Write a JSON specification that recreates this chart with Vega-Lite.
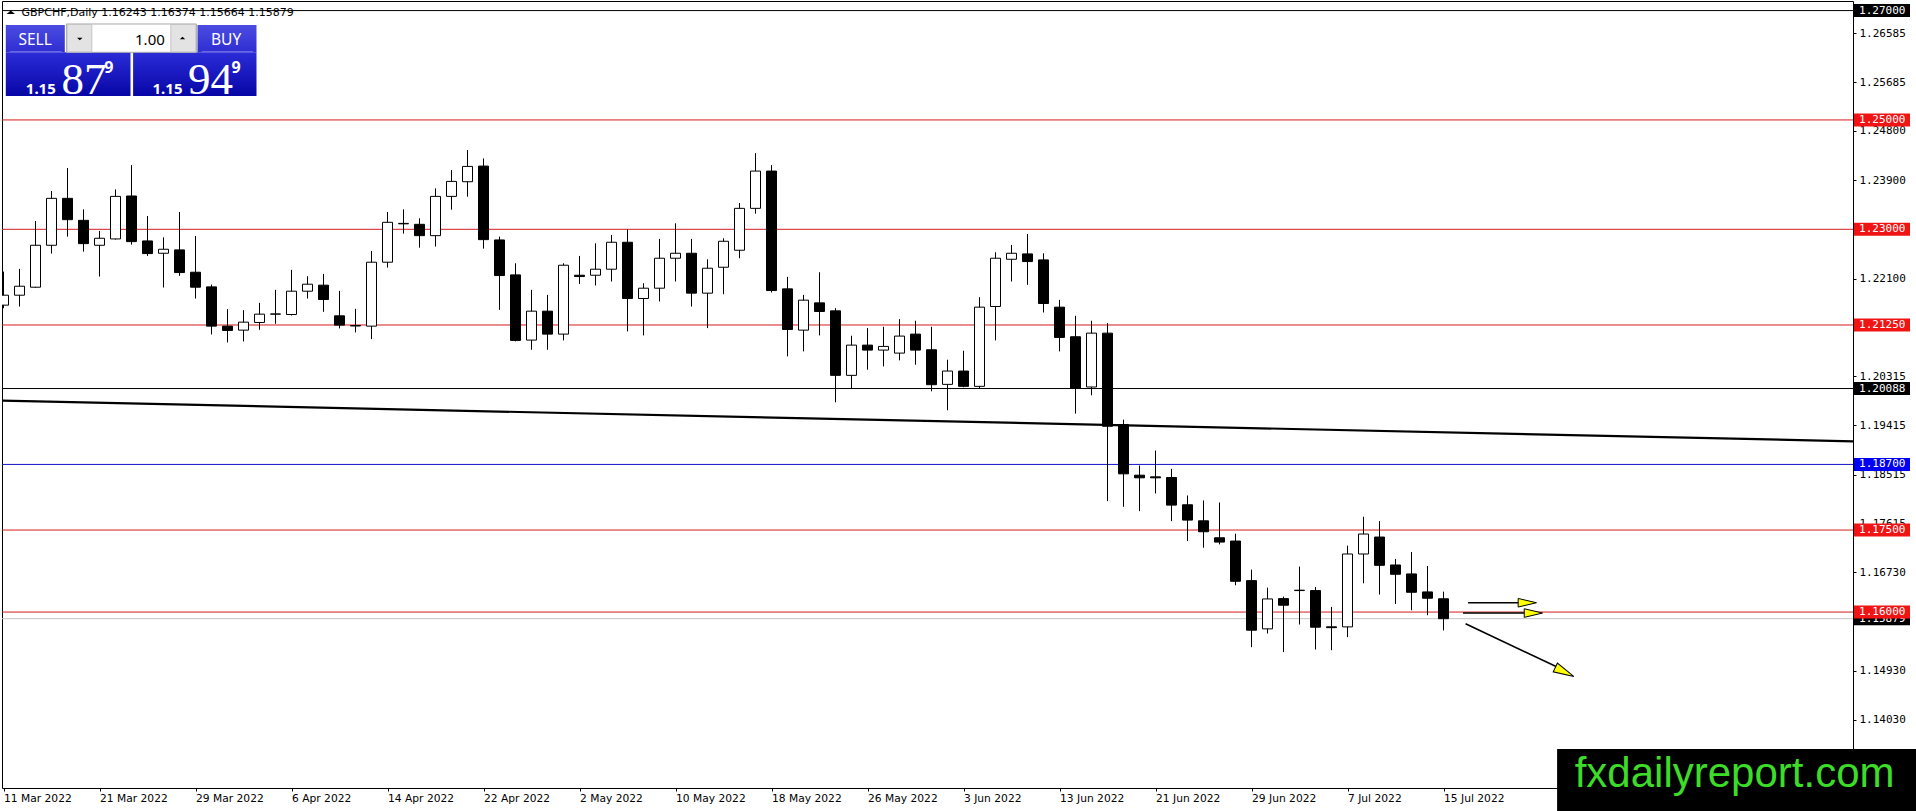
{
  "$schema": "https://vega.github.io/schema/vega-lite/v6.json",
  "width": 1851,
  "height": 787,
  "autosize": {"type": "none"},
  "padding": {"left": 2, "top": 1, "right": 63, "bottom": 23},
  "background": "white",
  "datasets": {
    "candles": [
      {"date": "2022-03-11", "bar": 0, "open": 1.21613, "high": 1.22227, "low": 1.21558, "close": 1.21795},
      {"date": "2022-03-14", "bar": 1, "open": 1.21795, "high": 1.22276, "low": 1.21588, "close": 1.21959},
      {"date": "2022-03-15", "bar": 2, "open": 1.21941, "high": 1.23152, "low": 1.2193, "close": 1.22708},
      {"date": "2022-03-16", "bar": 3, "open": 1.22708, "high": 1.237, "low": 1.22556, "close": 1.23566},
      {"date": "2022-03-17", "bar": 4, "open": 1.23566, "high": 1.2412, "low": 1.22866, "close": 1.23176},
      {"date": "2022-03-18", "bar": 5, "open": 1.23164, "high": 1.23365, "low": 1.22592, "close": 1.22738},
      {"date": "2022-03-21", "bar": 6, "open": 1.22708, "high": 1.2297, "low": 1.22136, "close": 1.22836},
      {"date": "2022-03-22", "bar": 7, "open": 1.22824, "high": 1.2373, "low": 1.22811, "close": 1.23602},
      {"date": "2022-03-23", "bar": 8, "open": 1.23609, "high": 1.24174, "low": 1.2272, "close": 1.22775},
      {"date": "2022-03-24", "bar": 9, "open": 1.22787, "high": 1.23243, "low": 1.22513, "close": 1.22556},
      {"date": "2022-03-25", "bar": 10, "open": 1.22562, "high": 1.22854, "low": 1.21935, "close": 1.22635},
      {"date": "2022-03-28", "bar": 11, "open": 1.22623, "high": 1.23316, "low": 1.22148, "close": 1.22209},
      {"date": "2022-03-29", "bar": 12, "open": 1.22215, "high": 1.22878, "low": 1.21734, "close": 1.21941},
      {"date": "2022-03-30", "bar": 13, "open": 1.21947, "high": 1.2199, "low": 1.21077, "close": 1.21229},
      {"date": "2022-03-31", "bar": 14, "open": 1.21229, "high": 1.2154, "low": 1.20931, "close": 1.2115},
      {"date": "2022-04-01", "bar": 15, "open": 1.21156, "high": 1.21521, "low": 1.20949, "close": 1.21302},
      {"date": "2022-04-04", "bar": 16, "open": 1.21296, "high": 1.21655, "low": 1.21162, "close": 1.21448},
      {"date": "2022-04-05", "bar": 17, "open": 1.21448, "high": 1.21893, "low": 1.21272, "close": 1.21452},
      {"date": "2022-04-06", "bar": 18, "open": 1.21442, "high": 1.22258, "low": 1.21424, "close": 1.21868},
      {"date": "2022-04-07", "bar": 19, "open": 1.21868, "high": 1.22142, "low": 1.21734, "close": 1.21996},
      {"date": "2022-04-08", "bar": 20, "open": 1.21978, "high": 1.22185, "low": 1.21491, "close": 1.21716},
      {"date": "2022-04-11", "bar": 21, "open": 1.21418, "high": 1.21874, "low": 1.21187, "close": 1.21248},
      {"date": "2022-04-12", "bar": 22, "open": 1.2124, "high": 1.21546, "low": 1.21114, "close": 1.21232},
      {"date": "2022-04-13", "bar": 23, "open": 1.21229, "high": 1.22604, "low": 1.20992, "close": 1.22398},
      {"date": "2022-04-14", "bar": 24, "open": 1.22398, "high": 1.23316, "low": 1.223, "close": 1.23128},
      {"date": "2022-04-15", "bar": 25, "open": 1.231, "high": 1.23365, "low": 1.22921, "close": 1.23108},
      {"date": "2022-04-18", "bar": 26, "open": 1.23091, "high": 1.23201, "low": 1.22665, "close": 1.22884},
      {"date": "2022-04-19", "bar": 27, "open": 1.22884, "high": 1.23748, "low": 1.22684, "close": 1.23602},
      {"date": "2022-04-20", "bar": 28, "open": 1.23602, "high": 1.24083, "low": 1.23359, "close": 1.23876},
      {"date": "2022-04-21", "bar": 29, "open": 1.2387, "high": 1.24448, "low": 1.23596, "close": 1.2415},
      {"date": "2022-04-22", "bar": 30, "open": 1.24156, "high": 1.24296, "low": 1.22647, "close": 1.22811},
      {"date": "2022-04-25", "bar": 31, "open": 1.22805, "high": 1.22866, "low": 1.21527, "close": 1.22154},
      {"date": "2022-04-26", "bar": 32, "open": 1.22166, "high": 1.22379, "low": 1.2095, "close": 1.20968},
      {"date": "2022-04-27", "bar": 33, "open": 1.20974, "high": 1.21893, "low": 1.20797, "close": 1.21503},
      {"date": "2022-04-28", "bar": 34, "open": 1.21503, "high": 1.21801, "low": 1.20797, "close": 1.21083},
      {"date": "2022-04-29", "bar": 35, "open": 1.21083, "high": 1.22379, "low": 1.20968, "close": 1.22343},
      {"date": "2022-05-02", "bar": 36, "open": 1.2216, "high": 1.22513, "low": 1.22002, "close": 1.22136},
      {"date": "2022-05-03", "bar": 37, "open": 1.2216, "high": 1.22744, "low": 1.21972, "close": 1.2227},
      {"date": "2022-05-04", "bar": 38, "open": 1.2227, "high": 1.22897, "low": 1.22045, "close": 1.22763},
      {"date": "2022-05-05", "bar": 39, "open": 1.22763, "high": 1.23, "low": 1.21132, "close": 1.21734},
      {"date": "2022-05-06", "bar": 40, "open": 1.21734, "high": 1.22014, "low": 1.21059, "close": 1.21923},
      {"date": "2022-05-09", "bar": 41, "open": 1.21923, "high": 1.22824, "low": 1.2168, "close": 1.22471},
      {"date": "2022-05-10", "bar": 42, "open": 1.22471, "high": 1.2311, "low": 1.22045, "close": 1.22562},
      {"date": "2022-05-11", "bar": 43, "open": 1.22562, "high": 1.22824, "low": 1.21588, "close": 1.21832},
      {"date": "2022-05-12", "bar": 44, "open": 1.21832, "high": 1.22452, "low": 1.21193, "close": 1.22288},
      {"date": "2022-05-13", "bar": 45, "open": 1.22306, "high": 1.22836, "low": 1.21813, "close": 1.22781},
      {"date": "2022-05-16", "bar": 46, "open": 1.22617, "high": 1.23481, "low": 1.22471, "close": 1.23383},
      {"date": "2022-05-17", "bar": 47, "open": 1.23383, "high": 1.24393, "low": 1.23286, "close": 1.24065},
      {"date": "2022-05-18", "bar": 48, "open": 1.24065, "high": 1.24174, "low": 1.21844, "close": 1.2188},
      {"date": "2022-05-19", "bar": 49, "open": 1.21911, "high": 1.2213, "low": 1.20676, "close": 1.21168},
      {"date": "2022-05-20", "bar": 50, "open": 1.21156, "high": 1.21801, "low": 1.20767, "close": 1.21704},
      {"date": "2022-05-23", "bar": 51, "open": 1.21655, "high": 1.22215, "low": 1.21059, "close": 1.21497},
      {"date": "2022-05-24", "bar": 52, "open": 1.21509, "high": 1.21558, "low": 1.19836, "close": 1.20329},
      {"date": "2022-05-25", "bar": 53, "open": 1.20329, "high": 1.21053, "low": 1.20079, "close": 1.20882},
      {"date": "2022-05-26", "bar": 54, "open": 1.20882, "high": 1.21193, "low": 1.20432, "close": 1.20791},
      {"date": "2022-05-27", "bar": 55, "open": 1.20791, "high": 1.21217, "low": 1.20493, "close": 1.20858},
      {"date": "2022-05-30", "bar": 56, "open": 1.20736, "high": 1.21357, "low": 1.20603, "close": 1.21047},
      {"date": "2022-05-31", "bar": 57, "open": 1.21083, "high": 1.21327, "low": 1.20523, "close": 1.20791},
      {"date": "2022-06-01", "bar": 58, "open": 1.20797, "high": 1.21217, "low": 1.20037, "close": 1.20158},
      {"date": "2022-06-02", "bar": 59, "open": 1.20164, "high": 1.20615, "low": 1.1969, "close": 1.20408},
      {"date": "2022-06-03", "bar": 60, "open": 1.20408, "high": 1.20779, "low": 1.2011, "close": 1.20128},
      {"date": "2022-06-06", "bar": 61, "open": 1.20128, "high": 1.21759, "low": 1.20079, "close": 1.21576},
      {"date": "2022-06-07", "bar": 62, "open": 1.21588, "high": 1.2258, "low": 1.20968, "close": 1.22471},
      {"date": "2022-06-08", "bar": 63, "open": 1.22452, "high": 1.22714, "low": 1.22045, "close": 1.22562},
      {"date": "2022-06-09", "bar": 64, "open": 1.2255, "high": 1.22915, "low": 1.21984, "close": 1.2241},
      {"date": "2022-06-10", "bar": 65, "open": 1.2244, "high": 1.22562, "low": 1.21479, "close": 1.21643},
      {"date": "2022-06-13", "bar": 66, "open": 1.21576, "high": 1.2171, "low": 1.20767, "close": 1.21022},
      {"date": "2022-06-14", "bar": 67, "open": 1.21035, "high": 1.21418, "low": 1.19629, "close": 1.20097},
      {"date": "2022-06-15", "bar": 68, "open": 1.20116, "high": 1.21327, "low": 1.19964, "close": 1.21101},
      {"date": "2022-06-16", "bar": 69, "open": 1.21101, "high": 1.21284, "low": 1.18029, "close": 1.19398},
      {"date": "2022-06-17", "bar": 70, "open": 1.19428, "high": 1.19519, "low": 1.17925, "close": 1.18528},
      {"date": "2022-06-20", "bar": 71, "open": 1.18503, "high": 1.1868, "low": 1.17846, "close": 1.18455},
      {"date": "2022-06-21", "bar": 72, "open": 1.18473, "high": 1.18953, "low": 1.18169, "close": 1.18455},
      {"date": "2022-06-22", "bar": 73, "open": 1.18461, "high": 1.18619, "low": 1.17663, "close": 1.17956},
      {"date": "2022-06-23", "bar": 74, "open": 1.17962, "high": 1.18132, "low": 1.17298, "close": 1.17682},
      {"date": "2022-06-24", "bar": 75, "open": 1.17669, "high": 1.18041, "low": 1.17177, "close": 1.17469},
      {"date": "2022-06-27", "bar": 76, "open": 1.17359, "high": 1.18004, "low": 1.17237, "close": 1.1728},
      {"date": "2022-06-28", "bar": 77, "open": 1.17299, "high": 1.17433, "low": 1.1649, "close": 1.16563},
      {"date": "2022-06-29", "bar": 78, "open": 1.16575, "high": 1.16776, "low": 1.15358, "close": 1.15668},
      {"date": "2022-06-30", "bar": 79, "open": 1.15693, "high": 1.16447, "low": 1.15608, "close": 1.1624},
      {"date": "2022-07-01", "bar": 80, "open": 1.16246, "high": 1.16283, "low": 1.15267, "close": 1.16125},
      {"date": "2022-07-04", "bar": 81, "open": 1.16393, "high": 1.16831, "low": 1.15772, "close": 1.164},
      {"date": "2022-07-05", "bar": 82, "open": 1.16393, "high": 1.16459, "low": 1.15315, "close": 1.15723},
      {"date": "2022-07-06", "bar": 83, "open": 1.1573, "high": 1.16094, "low": 1.15303, "close": 1.15715},
      {"date": "2022-07-07", "bar": 84, "open": 1.15729, "high": 1.17214, "low": 1.15541, "close": 1.17062},
      {"date": "2022-07-08", "bar": 85, "open": 1.17062, "high": 1.17743, "low": 1.16526, "close": 1.17427},
      {"date": "2022-07-11", "bar": 86, "open": 1.17372, "high": 1.17664, "low": 1.1632, "close": 1.16855},
      {"date": "2022-07-12", "bar": 87, "open": 1.16861, "high": 1.16971, "low": 1.16149, "close": 1.16691},
      {"date": "2022-07-13", "bar": 88, "open": 1.16697, "high": 1.17098, "low": 1.16033, "close": 1.16362},
      {"date": "2022-07-14", "bar": 89, "open": 1.16368, "high": 1.16843, "low": 1.15942, "close": 1.16253},
      {"date": "2022-07-15", "bar": 90, "open": 1.16243, "high": 1.16374, "low": 1.15664, "close": 1.15879}
    ],
    "levels": [
      {"price": 1.15879, "kind": "bid"},
      {"price": 1.27, "kind": "mark"},
      {"price": 1.25, "kind": "level"},
      {"price": 1.23, "kind": "level"},
      {"price": 1.2125, "kind": "level"},
      {"price": 1.20088, "kind": "mark"},
      {"price": 1.187, "kind": "pivot"},
      {"price": 1.175, "kind": "level"},
      {"price": 1.16, "kind": "level"}
    ]
  },
  "layer": [
    {
      "data": {"name": "levels"},
      "mark": {"type": "rule", "strokeWidth": 1, "clip": true},
      "encoding": {
        "y": {"field": "price", "type": "quantitative"},
        "stroke": {
          "field": "kind",
          "type": "nominal",
          "scale": {"domain": ["bid", "level", "pivot", "mark"], "range": ["#c4c4c4", "#d41c1c", "#1414c8", "#000000"]},
          "legend": null
        }
      }
    },
    {
      "data": {"values": [{}]},
      "mark": {"type": "rule", "color": "#000", "strokeWidth": 2.2, "clip": true},
      "encoding": {
        "x": {"datum": -0.09375},
        "x2": {"datum": 115.59375},
        "y": {"datum": 1.19867},
        "y2": {"datum": 1.19123}
      }
    },
    {
      "data": {"name": "candles"},
      "mark": {"type": "rule", "color": "#000", "strokeWidth": 1, "clip": true},
      "encoding": {
        "x": {
          "field": "bar",
          "type": "quantitative",
          "scale": {"domain": [-0.09375, 115.59375], "nice": false, "zero": false, "padding": 0},
          "axis": {
            "orient": "bottom",
            "title": null,
            "values": [0, 6, 12, 18, 24, 30, 36, 42, 48, 54, 60, 66, 72, 78, 84, 90],
            "labelExpr": "['11 Mar 2022','21 Mar 2022','29 Mar 2022','6 Apr 2022','14 Apr 2022','22 Apr 2022','2 May 2022','10 May 2022','18 May 2022','26 May 2022','3 Jun 2022','13 Jun 2022','21 Jun 2022','29 Jun 2022','7 Jul 2022','15 Jul 2022'][round(datum.value / 6)]",
            "labelAlign": "left",
            "labelBaseline": "top",
            "labelPadding": 2,
            "labelFont": "DejaVu Sans",
            "labelFontSize": 10.7,
            "labelColor": "#000",
            "labelFlush": false,
            "labelOverlap": false,
            "tickSize": 3,
            "tickColor": "#000",
            "domain": false,
            "grid": false
          }
        },
        "y": {
          "field": "low",
          "type": "quantitative",
          "scale": {"domain": [1.127824, 1.271752], "nice": false, "zero": false, "padding": 0},
          "axis": {
            "orient": "right",
            "title": null,
            "values": [1.26585, 1.25685, 1.248, 1.239, 1.221, 1.20315, 1.19415, 1.18515, 1.17615, 1.1673, 1.1493, 1.1403],
            "format": ".5f",
            "labelFont": "DejaVu Sans Mono",
            "labelFontSize": 11,
            "labelColor": "#000",
            "labelPadding": 3,
            "labelBaseline": "middle",
            "labelFlush": false,
            "labelOverlap": false,
            "tickSize": 3,
            "tickColor": "#000",
            "domain": false,
            "grid": false
          }
        },
        "y2": {"field": "high"}
      }
    },
    {
      "data": {"name": "candles"},
      "mark": {"type": "bar", "size": 10, "stroke": "#000", "strokeWidth": 1, "clip": true},
      "encoding": {
        "x": {"field": "bar", "type": "quantitative"},
        "y": {"field": "open", "type": "quantitative"},
        "y2": {"field": "close"},
        "fill": {"condition": {"test": "datum.close > datum.open", "value": "#ffffff"}, "value": "#000000"}
      }
    },
    {
      "data": {"values": [{}]},
      "mark": {"type": "rule", "color": "#000", "strokeWidth": 1.6, "clip": false},
      "encoding": {"x": {"datum": 91.54}, "x2": {"datum": 95.3}, "y": {"datum": 1.161704}, "y2": {"datum": 1.161704}}
    },
    {
      "data": {"values": [{}]},
      "mark": {"type": "rule", "color": "#000", "strokeWidth": 1.6, "clip": false},
      "encoding": {"x": {"datum": 91.22}, "x2": {"datum": 95.7}, "y": {"datum": 1.15982}, "y2": {"datum": 1.15982}}
    },
    {
      "data": {"values": [{}]},
      "mark": {"type": "rule", "color": "#000", "strokeWidth": 1.6, "clip": false},
      "encoding": {"x": {"datum": 91.38}, "x2": {"datum": 97.6}, "y": {"datum": 1.157864}, "y2": {"datum": 1.14927}}
    },
    {
      "data": {"values": [{}]},
      "mark": {"type": "point", "shape": "M0,0L-2,-0.47L-2,0.47Z", "size": 335, "filled": true, "fill": "#ffff00", "stroke": "#000", "strokeWidth": 1, "opacity": 1, "angle": 0, "clip": false},
      "encoding": {"x": {"datum": 95.81}, "y": {"datum": 1.161704}}
    },
    {
      "data": {"values": [{}]},
      "mark": {"type": "point", "shape": "M0,0L-2,-0.47L-2,0.47Z", "size": 335, "filled": true, "fill": "#ffff00", "stroke": "#000", "strokeWidth": 1, "opacity": 1, "angle": 0, "clip": false},
      "encoding": {"x": {"datum": 96.19}, "y": {"datum": 1.15982}}
    },
    {
      "data": {"values": [{}]},
      "mark": {"type": "point", "shape": "M0,0L-2,-0.47L-2,0.47Z", "size": 420, "filled": true, "fill": "#ffff00", "stroke": "#000", "strokeWidth": 1, "opacity": 1, "angle": 25.9, "clip": false},
      "encoding": {"x": {"datum": 98.14}, "y": {"datum": 1.148226}}
    },
    {
      "data": {"name": "levels"},
      "transform": [{"filter": "datum.kind == 'bid'"}],
      "mark": {"type": "bar", "size": 13, "fill": "#000", "clip": false},
      "encoding": {"x": {"datum": 115.656}, "x2": {"datum": 119.156}, "y": {"field": "price", "type": "quantitative"}}
    },
    {
      "data": {"name": "levels"},
      "transform": [{"filter": "datum.kind == 'bid'"}],
      "mark": {"type": "text", "align": "left", "baseline": "middle", "font": "DejaVu Sans Mono", "fontSize": 11, "fill": "#fff", "clip": false},
      "encoding": {"x": {"datum": 115.97}, "y": {"field": "price", "type": "quantitative"}, "text": {"field": "price", "type": "quantitative", "format": ".5f"}}
    },
    {
      "data": {"name": "levels"},
      "transform": [{"filter": "datum.kind != 'bid'"}],
      "mark": {"type": "bar", "size": 13, "clip": false},
      "encoding": {
        "x": {"datum": 115.656},
        "x2": {"datum": 119.156},
        "y": {"field": "price", "type": "quantitative"},
        "fill": {
          "field": "kind",
          "type": "nominal",
          "scale": {"domain": ["level", "pivot", "mark"], "range": ["#f01414", "#0000f5", "#000000"]},
          "legend": null
        }
      }
    },
    {
      "data": {"name": "levels"},
      "transform": [{"filter": "datum.kind != 'bid'"}],
      "mark": {"type": "text", "align": "left", "baseline": "middle", "font": "DejaVu Sans Mono", "fontSize": 11, "fill": "#fff", "clip": false},
      "encoding": {"x": {"datum": 115.97}, "y": {"field": "price", "type": "quantitative"}, "text": {"field": "price", "type": "quantitative", "format": ".5f"}}
    },
    {
      "data": {"values": [{}]},
      "mark": {"type": "rect", "clip": false, "fill": {"gradient": "linear", "x1": 0, "y1": 0, "x2": 0, "y2": 1, "stops": [{"offset": 0, "color": "#4c4ce2"}, {"offset": 1, "color": "#2e2ed2"}]}},
      "encoding": {"x": {"datum": 0.1438}, "x2": {"datum": 3.8313}, "y": {"datum": 1.267363}, "y2": {"datum": 1.26237}}
    },
    {
      "data": {"values": [{}]},
      "mark": {"type": "rect", "clip": false, "fill": {"gradient": "linear", "x1": 0, "y1": 0, "x2": 0, "y2": 1, "stops": [{"offset": 0, "color": "#4c4ce2"}, {"offset": 1, "color": "#2e2ed2"}]}},
      "encoding": {"x": {"datum": 12.125}, "x2": {"datum": 15.8125}, "y": {"datum": 1.267363}, "y2": {"datum": 1.26237}}
    },
    {
      "data": {"values": [{}]},
      "mark": {"type": "rect", "clip": false, "fill": {"gradient": "linear", "x1": 0, "y1": 0, "x2": 0, "y2": 1, "stops": [{"offset": 0, "color": "#2c2cd8"}, {"offset": 1, "color": "#0606a6"}]}},
      "encoding": {"x": {"datum": 0.1438}, "x2": {"datum": 7.9375}, "y": {"datum": 1.26237}, "y2": {"datum": 1.254378}}
    },
    {
      "data": {"values": [{}]},
      "mark": {"type": "rect", "clip": false, "fill": {"gradient": "linear", "x1": 0, "y1": 0, "x2": 0, "y2": 1, "stops": [{"offset": 0, "color": "#2c2cd8"}, {"offset": 1, "color": "#0606a6"}]}},
      "encoding": {"x": {"datum": 8.1}, "x2": {"datum": 15.8125}, "y": {"datum": 1.26237}, "y2": {"datum": 1.254378}}
    },
    {
      "data": {"values": [{}]},
      "mark": {"type": "rule", "color": "#7676ea", "strokeWidth": 1, "clip": false},
      "encoding": {"x": {"datum": 0.394}, "x2": {"datum": 3.644}, "y": {"datum": 1.26248}}
    },
    {
      "data": {"values": [{}]},
      "mark": {"type": "rule", "color": "#7676ea", "strokeWidth": 1, "clip": false},
      "encoding": {"x": {"datum": 12.375}, "x2": {"datum": 15.6}, "y": {"datum": 1.26248}}
    },
    {
      "data": {"values": [{}]},
      "mark": {"type": "rect", "clip": false, "fill": "#ffffff", "stroke": "#a8a8a8", "strokeWidth": 1},
      "encoding": {"x": {"datum": 3.9375}, "x2": {"datum": 12.0625}, "y": {"datum": 1.267546}, "y2": {"datum": 1.26237}}
    },
    {
      "data": {"values": [{}]},
      "mark": {"type": "rect", "clip": false, "fill": "#e3e3e3", "stroke": "#c4c4c4", "strokeWidth": 1},
      "encoding": {"x": {"datum": 3.98}, "x2": {"datum": 5.52}, "y": {"datum": 1.26745}, "y2": {"datum": 1.26245}}
    },
    {
      "data": {"values": [{}]},
      "mark": {"type": "rect", "clip": false, "fill": "#e3e3e3", "stroke": "#c4c4c4", "strokeWidth": 1},
      "encoding": {"x": {"datum": 10.46}, "x2": {"datum": 12.02}, "y": {"datum": 1.26745}, "y2": {"datum": 1.26245}}
    },
    {
      "data": {"values": [{}]},
      "mark": {"type": "point", "shape": "M-1,-0.5L1,-0.5L0,0.5Z", "size": 30, "filled": true, "fill": "#000", "strokeWidth": 0, "opacity": 1, "clip": false},
      "encoding": {"x": {"datum": 4.769}, "y": {"datum": 1.264803}}
    },
    {
      "data": {"values": [{}]},
      "mark": {"type": "point", "shape": "M-1,0.5L1,0.5L0,-0.5Z", "size": 30, "filled": true, "fill": "#000", "strokeWidth": 0, "opacity": 1, "clip": false},
      "encoding": {"x": {"datum": 11.188}, "y": {"datum": 1.264986}}
    },
    {
      "data": {"values": [{}]},
      "mark": {"type": "text", "text": "SELL", "align": "center", "baseline": "middle", "font": "Noto Sans", "fontSize": 15.5, "fill": "#fff", "clip": false},
      "encoding": {"x": {"datum": 1.975}, "y": {"datum": 1.264675}}
    },
    {
      "data": {"values": [{}]},
      "mark": {"type": "text", "text": "BUY", "align": "center", "baseline": "middle", "font": "Noto Sans", "fontSize": 15.5, "fill": "#fff", "clip": false},
      "encoding": {"x": {"datum": 13.9125}, "y": {"datum": 1.264675}}
    },
    {
      "data": {"values": [{}]},
      "mark": {"type": "text", "text": "1.00", "align": "right", "baseline": "middle", "font": "Noto Sans", "fontSize": 15, "fill": "#000", "clip": false},
      "encoding": {"x": {"datum": 10.081}, "y": {"datum": 1.264675}}
    },
    {
      "data": {"values": [{}]},
      "mark": {"type": "text", "text": "1.15", "align": "left", "baseline": "alphabetic", "font": "Noto Sans", "fontSize": 15, "fontWeight": "bold", "fill": "#fff", "clip": false},
      "encoding": {"x": {"datum": 1.394}, "y": {"datum": 1.254744}}
    },
    {
      "data": {"values": [{}]},
      "mark": {"type": "text", "text": "87", "align": "left", "baseline": "alphabetic", "font": "Liberation Sans Narrow", "fontSize": 45, "fill": "#fff", "clip": false},
      "encoding": {"x": {"datum": 3.625}, "y": {"datum": 1.254744}}
    },
    {
      "data": {"values": [{}]},
      "mark": {"type": "text", "text": "9", "align": "left", "baseline": "alphabetic", "font": "Noto Sans", "fontSize": 16, "fontWeight": "bold", "fill": "#fff", "clip": false},
      "encoding": {"x": {"datum": 6.3}, "y": {"datum": 1.25853}}
    },
    {
      "data": {"values": [{}]},
      "mark": {"type": "text", "text": "1.15", "align": "left", "baseline": "alphabetic", "font": "Noto Sans", "fontSize": 15, "fontWeight": "bold", "fill": "#fff", "clip": false},
      "encoding": {"x": {"datum": 9.3125}, "y": {"datum": 1.254744}}
    },
    {
      "data": {"values": [{}]},
      "mark": {"type": "text", "text": "94", "align": "left", "baseline": "alphabetic", "font": "Liberation Sans Narrow", "fontSize": 45, "fill": "#fff", "clip": false},
      "encoding": {"x": {"datum": 11.5375}, "y": {"datum": 1.254744}}
    },
    {
      "data": {"values": [{}]},
      "mark": {"type": "text", "text": "9", "align": "left", "baseline": "alphabetic", "font": "Noto Sans", "fontSize": 16, "fontWeight": "bold", "fill": "#fff", "clip": false},
      "encoding": {"x": {"datum": 14.25}, "y": {"datum": 1.25853}}
    },
    {
      "data": {"values": [{}]},
      "mark": {"type": "point", "shape": "M-1,0.4L1,0.4L0,-0.4Z", "size": 70, "filled": true, "fill": "#000", "strokeWidth": 0, "opacity": 1, "clip": false},
      "encoding": {"x": {"datum": 0.456}, "y": {"datum": 1.269686}}
    },
    {
      "data": {"values": [{}]},
      "mark": {"type": "text", "text": "GBPCHF,Daily  1.16243 1.16374 1.15664 1.15879", "align": "left", "baseline": "middle", "font": "DejaVu Sans", "fontSize": 11, "fill": "#000", "clip": false},
      "encoding": {"x": {"datum": 1.125}, "y": {"datum": 1.269613}}
    },
    {
      "data": {"values": [{}]},
      "mark": {"type": "rect", "fill": "#000", "clip": false},
      "encoding": {"x": {"datum": 97.1}, "x2": {"datum": 120}, "y": {"datum": 1.134956}, "y2": {"datum": 1.123}}
    },
    {
      "data": {"values": [{}]},
      "mark": {"type": "text", "text": "fxdailyreport.com", "align": "left", "baseline": "alphabetic", "font": "Liberation Sans", "fontSize": 42, "fill": "#3cdc28", "clip": false},
      "encoding": {"x": {"datum": 98.2}, "y": {"datum": 1.12795}}
    }
  ],
  "config": {
    "view": {"stroke": "#000", "strokeWidth": 1},
    "axis": {"grid": false}
  }
}
